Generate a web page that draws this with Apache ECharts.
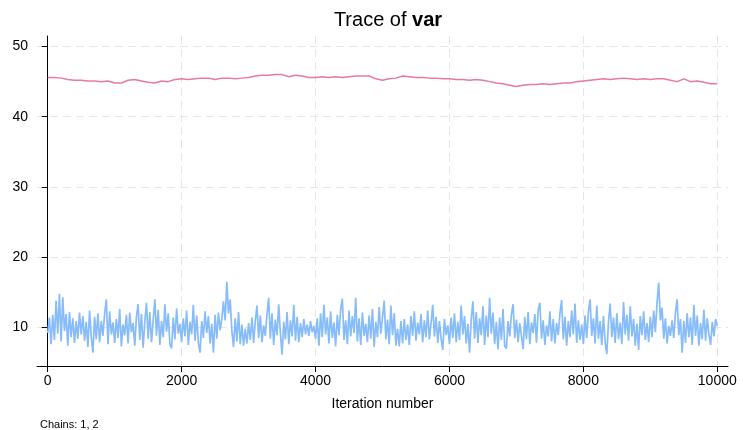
<!DOCTYPE html>
<html>
<head>
<meta charset="utf-8">
<script src="https://cdn.jsdelivr.net/npm/echarts@6/dist/echarts.min.js"></script>
<style>html,body{margin:0;padding:0;background:#fff;}#c{width:743px;height:430px;}</style>
</head>
<body>
<div id="c"></div>
<script>
// Tick labels
const xTicks = [0, 2000, 4000, 6000, 8000, 10000];
const yTicks = [10, 20, 30, 40, 50];

// Chain 2 (blue), sampled every 25 iterations
const blueStep = 25;
const blueValues = [
9.2,11.4,7.6,11.8,8.2,13.8,9.1,14.8,8.0,14.3,9.5,11.9,7.4,12.2,8.6,11.3,7.8,10.9,8.4,12.1,
9.0,11.6,8.1,10.8,7.2,12.4,8.7,6.4,11.5,8.3,12.0,7.9,10.9,8.8,11.9,14.0,7.6,12.3,9.0,10.7,
7.8,11.2,8.5,12.6,7.3,10.4,8.9,11.8,7.7,12.1,9.3,10.6,7.4,11.5,13.3,8.2,11.9,7.1,10.8,13.5,
8.4,12.2,7.9,11.0,14.0,8.8,12.5,7.5,10.9,8.6,13.3,9.4,12.0,7.6,7.0,11.4,8.3,12.7,9.1,10.5,
7.9,11.3,8.7,12.4,7.5,10.8,9.0,13.2,8.1,11.7,7.8,6.4,10.9,8.5,12.3,9.2,11.6,7.7,10.5,6.4,
11.8,8.4,12.1,9.6,11.2,13.7,11.0,16.5,12.0,14.0,9.5,7.2,11.3,8.0,12.2,7.6,10.4,7.4,9.8,7.7,
10.6,8.2,11.4,7.8,10.9,13.1,8.5,11.7,7.9,10.3,8.8,11.9,14.2,8.4,12.0,7.5,11.1,8.9,13.3,9.2,
6.1,10.8,8.3,12.2,7.6,11.0,8.7,13.2,8.1,11.5,7.9,10.6,8.6,11.2,9.0,10.4,8.8,10.9,9.3,10.2,
8.4,11.3,7.4,12.0,8.6,13.2,9.0,11.4,7.7,12.3,8.5,10.7,7.3,11.8,8.9,12.5,14.1,8.2,11.0,7.6,
12.4,8.7,11.6,9.2,14.2,8.0,11.3,7.5,12.1,8.8,10.5,7.9,11.7,8.4,12.6,7.2,10.8,8.6,12.9,9.1,
11.4,13.8,8.3,11.1,7.6,13.1,8.9,12.0,7.4,9.8,7.3,10.9,7.7,11.2,8.2,10.4,7.5,11.6,8.8,12.3,
8.1,10.7,9.0,11.9,7.9,11.0,8.6,12.4,8.3,10.6,13.2,8.7,11.5,7.8,10.9,8.4,6.8,11.2,8.9,10.3,
7.6,11.4,8.5,12.0,7.9,10.8,8.2,13.1,9.0,11.6,7.7,10.5,6.4,11.1,13.7,8.4,12.2,7.8,11.3,8.9,
13.0,7.5,11.7,8.6,14.2,9.1,12.1,7.6,10.8,6.9,11.4,8.2,12.6,7.3,7.0,10.9,8.7,11.8,13.3,8.5,
11.1,7.9,10.6,8.8,6.9,11.5,8.3,12.2,7.6,10.7,9.2,11.9,7.8,12.5,13.5,8.4,11.0,7.5,10.3,8.7,
12.3,8.0,11.2,7.7,10.6,8.9,12.0,13.9,8.3,11.5,7.4,10.9,8.6,12.4,9.0,13.4,7.8,11.0,8.2,10.4,
7.6,11.7,8.5,12.2,14.0,8.8,11.3,7.7,13.1,8.4,10.9,7.5,11.6,7.9,6.2,10.8,13.4,8.6,11.4,7.8,
12.0,8.3,10.7,7.6,13.6,9.0,11.8,8.1,13.0,8.7,11.2,7.4,10.5,6.8,11.6,8.9,12.3,8.2,10.6,7.9,
11.5,8.6,12.4,9.3,13.5,16.4,11.0,12.8,8.4,11.3,7.7,10.2,8.8,11.0,8.5,12.1,14.0,8.9,11.2,6.4,
10.9,7.8,12.0,8.6,11.4,7.5,13.2,8.8,11.7,7.4,10.6,8.3,12.5,8.1,11.3,9.0,7.5,10.8,8.7,11.2,
10.2
];

// Chain 1 (pink), sampled every 100 iterations
const pinkStep = 100;
const pinkValues = [
45.6,45.6,45.5,45.3,45.2,45.2,45.1,45.1,45.0,45.1,
44.8,44.8,45.2,45.3,45.1,44.9,44.8,45.1,45.0,45.3,
45.4,45.3,45.4,45.5,45.5,45.3,45.5,45.5,45.4,45.5,
45.6,45.8,45.9,45.9,46.0,46.0,45.7,45.9,45.8,45.6,
45.6,45.7,45.6,45.7,45.6,45.7,45.8,45.8,45.8,45.4,
45.2,45.4,45.5,45.8,45.7,45.6,45.6,45.5,45.5,45.4,
45.4,45.3,45.3,45.2,45.3,45.2,45.0,44.8,44.7,44.5,
44.3,44.5,44.6,44.6,44.7,44.6,44.7,44.8,44.8,45.0,
45.1,45.2,45.3,45.4,45.3,45.4,45.5,45.4,45.3,45.4,
45.3,45.4,45.4,45.2,45.0,45.4,45.0,45.1,44.9,44.7,
44.7
];

const blueData = blueValues.map((v, i) => [i * blueStep, v]);
const pinkData = pinkValues.map((v, i) => [i * pinkStep, v]);

const FONT = '"Liberation Sans", Arial, Helvetica, sans-serif';
const chart = echarts.init(document.getElementById('c'), null, {renderer: 'canvas'});
chart.setOption({
  animation: false,
  backgroundColor: '#ffffff',
  title: {
    text: 'Trace of {b|var}',
    left: 383,
    top: 5,
    textAlign: 'center',
    textStyle: {
      fontFamily: FONT, fontSize: 20, fontWeight: 'normal', color: '#000',
      rich: { b: { fontFamily: FONT, fontSize: 20, fontWeight: 'bold', color: '#000' } }
    }
  },
  grid: { left: 37, right: 15, top: 36, bottom: 64, containLabel: false },
  xAxis: {
    type: 'value',
    min: -160, max: 10160,
    name: 'Iteration number',
    nameLocation: 'middle',
    nameGap: 31,
    nameTextStyle: { fontFamily: FONT, fontSize: 14, color: '#000' },
    axisLine: { show: true, lineStyle: { color: '#000', width: 1 } },
    axisTick: { show: true, length: 6, customValues: xTicks, lineStyle: { color: '#000' } },
    axisLabel: { customValues: xTicks, fontFamily: FONT, fontSize: 14, color: '#000', margin: 8,
      formatter: v => String(v) },
    splitLine: { show: true, lineStyle: { color: '#e6e6e6', type: [8, 5], width: 1 } }
  },
  yAxis: {
    type: 'value',
    min: 4.5, max: 51.5,
    axisLine: { show: true, lineStyle: { color: '#000', width: 1 } },
    axisTick: { show: true, length: 6, customValues: yTicks, lineStyle: { color: '#000' } },
    axisLabel: { customValues: yTicks, fontFamily: FONT, fontSize: 14, color: '#000', margin: 9,
      formatter: v => String(v) },
    splitLine: { show: true, lineStyle: { color: '#e6e6e6', type: [8, 5], width: 1 } }
  },
  series: [
    { name: 'Chain 1', type: 'line', data: pinkData, showSymbol: false, symbol: 'none',
      lineStyle: { color: '#e8799f', width: 1.5 }, itemStyle: { color: '#e8799f' } },
    { name: 'Chain 2', type: 'line', data: blueData, showSymbol: false, symbol: 'none',
      lineStyle: { color: '#86bcfa', width: 1.7 }, itemStyle: { color: '#86bcfa' } }
  ],
  graphic: [
    { type: 'text', left: 40, top: 419,
      style: { text: 'Chains: 1, 2', font: '11px ' + FONT, fill: '#000' } }
  ]
});
</script>
</body>
</html>
